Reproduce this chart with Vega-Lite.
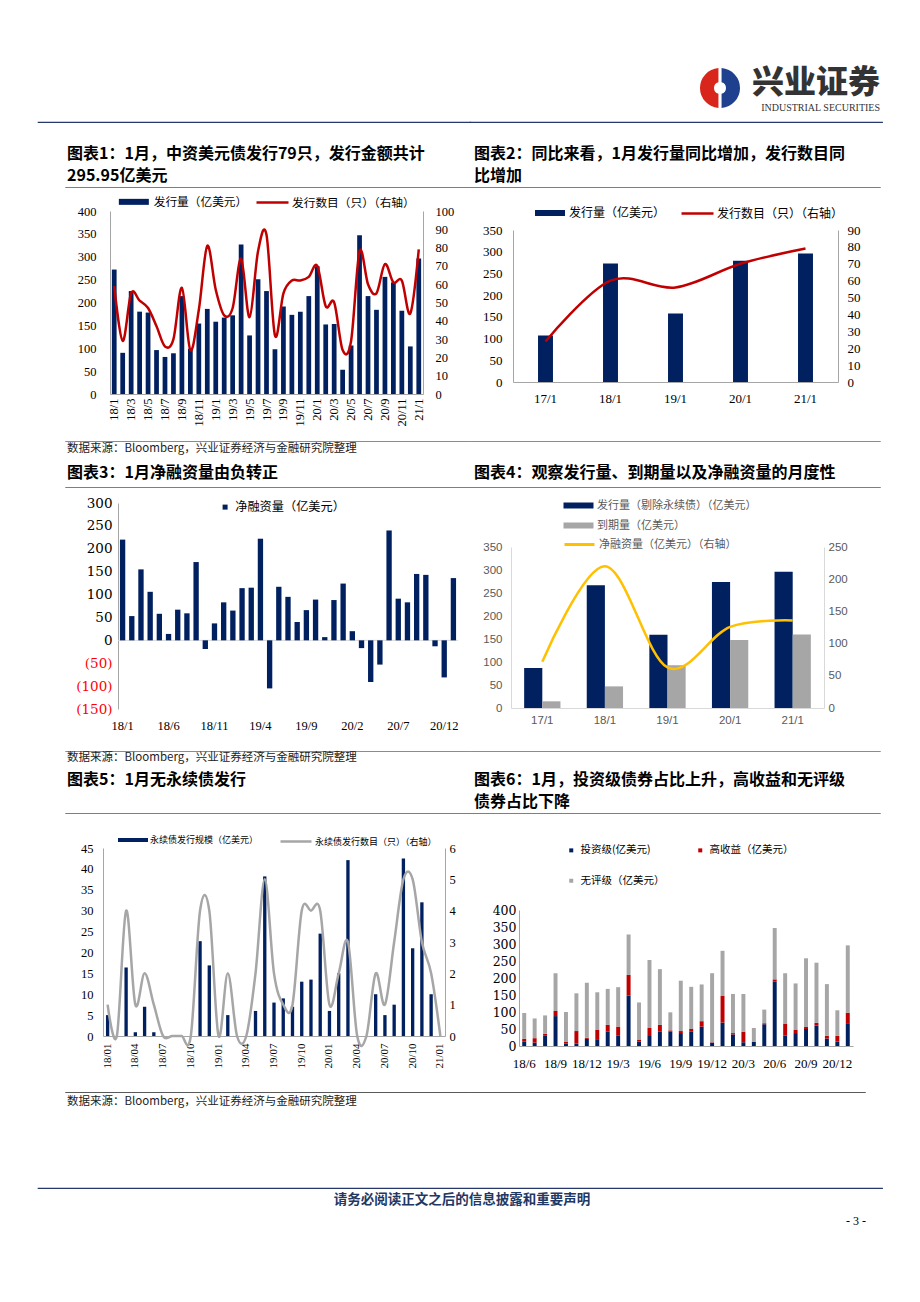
{
"$schema":"https://vega.github.io/schema/vega-lite/v6.json",
"autosize":"none",
"padding":{"left":0,"top":68,"right":920,"bottom":1234},
"background":"#ffffff",
"spacing":0,
"resolve":{"scale":{"fill":"independent","stroke":"independent","color":"independent"},"legend":{"fill":"independent","stroke":"independent","color":"independent"}},
"config":{
 "view":{"stroke":null},
 "font":"Liberation Serif, Noto Sans CJK SC",
 "axis":{"labelFont":"Liberation Serif","labelColor":"#000000","labelFontSize":12.5,"domainColor":"#a6a6a6","domainWidth":1,"ticks":false,"grid":false,"labelOverlap":false},
 "legend":{"padding":0,"labelFont":"Noto Sans CJK SC","labelColor":"#000000","labelLimit":0},
 "title":{"frame":"group"}
},
"vconcat":[
{"spacing":0,"bounds":"flush","resolve":{"scale":{"fill":"independent","stroke":"independent","color":"independent"},"legend":{"fill":"independent","stroke":"independent","color":"independent"}},"hconcat":[
 {"width":700,"height":53,"data":{"values":[]},"mark":"point"},
 {"width":40,"height":40,"data":{"values":[{"p":"a","v":1},{"p":"b","v":1}]},"mark":{"type":"arc","radius":20,"innerRadius":6,"padAngle":0.15},"encoding":{"theta":{"field":"v","type":"quantitative"},"color":{"field":"p","type":"nominal","scale":{"domain":["a","b"],"range":["#1f3f8f","#d9261c"]},"legend":null}}},
 {"width":8,"height":1,"data":{"values":[]},"mark":"point"},
 {"width":132,"height":0.01,"data":{"values":[]},"mark":"point","title":{"text":"兴业证券","subtitle":"INDUSTRIAL SECURITIES","orient":"bottom","anchor":"end","offset":0,"font":"Noto Sans CJK SC","fontSize":32,"fontWeight":900,"color":"#333333","subtitleFont":"Liberation Serif","subtitleFontSize":10,"subtitleColor":"#333333","subtitlePadding":3}}
]},
{"spacing":0,"bounds":"flush","hconcat":[
 {"width":38,"height":64,"data":{"values":[]},"mark":"point"},
 {"width":432,"height":0.01,"data":{"values":[]},"mark":"point","view":{"stroke":"#26386b","strokeWidth":1.2},"title":{"text":["图表1：1月，中资美元债发行79只，发行金额共计","295.95亿美元"],"orient":"bottom","anchor":"start","dx":29,"offset":24,"font":"Noto Sans CJK SC","fontSize":16,"fontWeight":"bold","lineHeight":22,"color":"#000000"}},
 {"width":412,"height":0.01,"data":{"values":[]},"mark":"point","view":{"stroke":"#26386b","strokeWidth":1.2},"title":{"text":["图表2：同比来看，1月发行量同比增加，发行数目同","比增加"],"orient":"bottom","anchor":"start","dx":4,"offset":24,"font":"Noto Sans CJK SC","fontSize":16,"fontWeight":"bold","lineHeight":22,"color":"#000000"}}
]},
{"spacing":0,"bounds":"flush","hconcat":[
 {"width":65,"height":5,"data":{"values":[]},"mark":"point"},
 {"width":815,"height":0.01,"data":{"values":[]},"mark":"point","view":{"stroke":"#7f7f7f","strokeWidth":1}}
]},
{"spacing":0,"bounds":"flush","resolve":{"scale":{"fill":"independent","stroke":"independent","color":"independent"},"legend":{"fill":"independent","stroke":"independent","color":"independent"}},"hconcat":[
 {"width":110,"height":248,"data":{"values":[]},"mark":"point"},
 {"width":313,"height":202,
  "data":{"values":[
   {"m":"18/1","v":272,"n":59},{"m":"18/2","v":90,"n":29},{"m":"18/3","v":225,"n":55},{"m":"18/4","v":180,"n":51},{"m":"18/5","v":178,"n":47},{"m":"18/6","v":96,"n":37},{"m":"18/7","v":81,"n":26},{"m":"18/8","v":89,"n":30},{"m":"18/9","v":214,"n":58},{"m":"18/10","v":99,"n":24},{"m":"18/11","v":154,"n":46},{"m":"18/12","v":186,"n":81},
   {"m":"19/1","v":158,"n":57},{"m":"19/2","v":167,"n":43},{"m":"19/3","v":172,"n":47},{"m":"19/4","v":327,"n":74},{"m":"19/5","v":128,"n":42},{"m":"19/6","v":251,"n":78},{"m":"19/7","v":225,"n":87},{"m":"19/8","v":98,"n":32},{"m":"19/9","v":191,"n":55},{"m":"19/10","v":173,"n":62},{"m":"19/11","v":180,"n":62},{"m":"19/12","v":214,"n":64},
   {"m":"20/1","v":279,"n":70},{"m":"20/2","v":152,"n":48},{"m":"20/3","v":153,"n":50},{"m":"20/4","v":53,"n":24},{"m":"20/5","v":106,"n":29},{"m":"20/6","v":347,"n":78},{"m":"20/7","v":214,"n":60},{"m":"20/8","v":184,"n":55},{"m":"20/9","v":256,"n":71},{"m":"20/10","v":244,"n":61},{"m":"20/11","v":182,"n":62},{"m":"20/12","v":104,"n":44},
   {"m":"21/1","v":296,"n":79}]},
  "encoding":{"x":{"field":"m","type":"ordinal","sort":null,"scale":{"paddingInner":0.44,"paddingOuter":0.22},"axis":{"title":null,"values":["18/1","18/3","18/5","18/7","18/9","18/11","19/1","19/3","19/5","19/7","19/9","19/11","20/1","20/3","20/5","20/7","20/9","20/11","21/1"],"labelAngle":-90,"labelPadding":4}}},
  "layer":[
   {"mark":{"type":"bar"},"encoding":{
     "y":{"field":"v","type":"quantitative","scale":{"domain":[0,400],"nice":false,"rangeMax":19},"axis":{"title":null,"orient":"left","values":[0,50,100,150,200,250,300,350,400],"labelPadding":14}},
     "fill":{"datum":"发行量（亿美元）","type":"nominal","scale":{"range":["#002060"]},"legend":{"orient":"none","legendX":18,"legendY":4,"title":null,"symbolType":"M-3,-0.6H3V0.6H-3Z","symbolSize":100,"symbolStrokeWidth":0,"labelOffset":14,"labelFontSize":11.7}}}},
   {"mark":{"type":"line","interpolate":"cardinal","strokeWidth":2.5},"encoding":{
     "y":{"field":"n","type":"quantitative","scale":{"domain":[0,100],"nice":false,"rangeMax":19},"axis":{"title":null,"orient":"right","values":[0,10,20,30,40,50,60,70,80,90,100],"labelPadding":12}},
     "stroke":{"datum":"发行数目（只）（右轴）","type":"nominal","scale":{"range":["#c00000"]},"legend":{"orient":"none","legendX":156,"legendY":4,"title":null,"symbolType":"M-3.2,0H3.2","symbolSize":100,"symbolStrokeWidth":2.5,"labelOffset":13,"labelFontSize":11.7}}}}
  ],
  "resolve":{"scale":{"y":"independent"}}
 },
 {"width":90,"height":1,"data":{"values":[]},"mark":"point"},
 {"width":325,"height":190,
  "data":{"values":[{"m":"17/1","v":107,"n":24},{"m":"18/1","v":273,"n":60},{"m":"19/1","v":158,"n":56},{"m":"20/1","v":279,"n":70},{"m":"21/1","v":296,"n":79}]},
  "encoding":{"x":{"field":"m","type":"ordinal","sort":null,"scale":{"paddingInner":0.77,"paddingOuter":0.385},"axis":{"title":null,"labelAngle":0,"labelPadding":10,"labelFontSize":13}}},
  "layer":[
   {"mark":{"type":"bar"},"encoding":{
     "y":{"field":"v","type":"quantitative","scale":{"domain":[0,350],"nice":false,"rangeMax":38},"axis":{"title":null,"orient":"left","values":[0,50,100,150,200,250,300,350],"labelPadding":11,"labelFontSize":13}},
     "fill":{"datum":"发行量（亿美元）","type":"nominal","scale":{"range":["#002060"]},"legend":{"orient":"none","legendX":31,"legendY":15,"title":null,"symbolType":"M-3,-0.6H3V0.6H-3Z","symbolSize":100,"symbolStrokeWidth":0,"labelOffset":13,"labelFontSize":12}}}},
   {"mark":{"type":"line","interpolate":"cardinal","strokeWidth":2.5},"encoding":{
     "y":{"field":"n","type":"quantitative","scale":{"domain":[0,90],"nice":false,"rangeMax":38},"axis":{"title":null,"orient":"right","values":[0,10,20,30,40,50,60,70,80,90],"labelPadding":9,"labelFontSize":13}},
     "stroke":{"datum":"发行数目（只）（右轴）","type":"nominal","scale":{"range":["#c00000"]},"legend":{"orient":"none","legendX":178,"legendY":15,"title":null,"symbolType":"M-3.2,0H3.2","symbolSize":100,"symbolStrokeWidth":2.5,"labelOffset":13,"labelFontSize":12}}}}
  ],
  "resolve":{"scale":{"y":"independent"}}
 }
]},
{"spacing":0,"bounds":"flush","hconcat":[
 {"width":65,"height":45,"data":{"values":[]},"mark":"point"},
 {"width":405,"height":0.01,"data":{"values":[]},"mark":"point","view":{"stroke":"#8c8c8c","strokeWidth":1},"title":{"text":"数据来源：Bloomberg，兴业证券经济与金融研究院整理","subtitle":"图表3：1月净融资量由负转正","orient":"bottom","anchor":"start","dx":2,"offset":2,"font":"Noto Sans CJK SC","fontSize":11.5,"fontWeight":"normal","color":"#222222","subtitleFont":"Noto Sans CJK SC","subtitleFontSize":16,"subtitleFontWeight":"bold","subtitleColor":"#000000","subtitlePadding":10}},
 {"width":410,"height":0.01,"data":{"values":[]},"mark":"point","view":{"stroke":"#8c8c8c","strokeWidth":1},"title":{"text":"图表4：观察发行量、到期量以及净融资量的月度性","orient":"bottom","anchor":"start","dx":4,"offset":24,"font":"Noto Sans CJK SC","fontSize":16,"fontWeight":"bold","color":"#000000"}}
]},
{"spacing":0,"bounds":"flush","hconcat":[
 {"width":65,"height":3,"data":{"values":[]},"mark":"point"},
 {"width":815,"height":0.01,"data":{"values":[]},"mark":"point","view":{"stroke":"#7f7f7f","strokeWidth":1}}
]},
{"spacing":0,"bounds":"flush","resolve":{"scale":{"fill":"independent","stroke":"independent","color":"independent"},"legend":{"fill":"independent","stroke":"independent","color":"independent"}},"hconcat":[
 {"width":118,"height":260,"data":{"values":[]},"mark":"point"},
 {"width":340,"height":219,
  "layer":[
   {"data":{"values":[{}]},"mark":{"type":"rule","color":"#d9d9d9","strokeWidth":1},"encoding":{"y":{"datum":0,"type":"quantitative","scale":{"domain":[-150,300],"nice":false,"rangeMax":13},"axis":{"title":null,"values":[-150,-100,-50,0,50,100,150,200,250,300],"labelPadding":6,"labelFont":"DejaVu Serif","labelFontSize":13.5,"labelExpr":"datum.value < 0 ? '(' + (-datum.value) + ')' : '' + datum.value","labelColor":{"condition":{"test":"datum.value < 0","value":"#ff0000"},"value":"#000000"}}}}},
   {"data":{"values":[
     {"m":"18/1","v":220},{"m":"18/2","v":53},{"m":"18/3","v":155},{"m":"18/4","v":106},{"m":"18/5","v":58},{"m":"18/6","v":14},{"m":"18/7","v":67},{"m":"18/8","v":59},{"m":"18/9","v":171},{"m":"18/10","v":-19},{"m":"18/11","v":37},{"m":"18/12","v":83},
     {"m":"19/1","v":65},{"m":"19/2","v":114},{"m":"19/3","v":115},{"m":"19/4","v":222},{"m":"19/5","v":-105},{"m":"19/6","v":117},{"m":"19/7","v":95},{"m":"19/8","v":40},{"m":"19/9","v":66},{"m":"19/10","v":89},{"m":"19/11","v":7},{"m":"19/12","v":88},
     {"m":"20/1","v":124},{"m":"20/2","v":20},{"m":"20/3","v":-17},{"m":"20/4","v":-91},{"m":"20/5","v":-53},{"m":"20/6","v":240},{"m":"20/7","v":91},{"m":"20/8","v":83},{"m":"20/9","v":145},{"m":"20/10","v":143},{"m":"20/11","v":-13},{"m":"20/12","v":-81},
     {"m":"21/1","v":136}]},
    "mark":{"type":"bar"},
    "encoding":{
     "x":{"field":"m","type":"ordinal","sort":null,"scale":{"paddingInner":0.42,"paddingOuter":0.21},"axis":{"title":null,"values":["18/1","18/6","18/11","19/4","19/9","20/2","20/7","20/12"],"labelAngle":0,"labelPadding":10,"domain":false,"labelFontSize":12.5}},
     "y":{"field":"v","type":"quantitative","scale":{"domain":[-150,300],"nice":false,"rangeMax":13},"axis":{"title":null,"values":[-150,-100,-50,0,50,100,150,200,250,300],"labelPadding":6,"labelFont":"DejaVu Serif","labelFontSize":13.5,"labelExpr":"datum.value < 0 ? '(' + (-datum.value) + ')' : '' + datum.value","labelColor":{"condition":{"test":"datum.value < 0","value":"#ff0000"},"value":"#000000"}}},
     "fill":{"datum":"净融资量（亿美元）","type":"nominal","scale":{"range":["#002060"]},"legend":{"orient":"none","legendX":101,"legendY":11,"title":null,"symbolType":"square","symbolSize":25,"symbolStrokeWidth":0,"labelOffset":4,"labelFontSize":12.2}}}}
  ]
 },
 {"width":53,"height":1,"data":{"values":[]},"mark":"point"},
 {"width":313,"height":218,
  "layer":[
   {"data":{"values":[
     {"g":"17/1","s":"发行量（剔除永续债）（亿美元）","v":87},{"g":"17/1","s":"到期量（亿美元）","v":14.5},
     {"g":"18/1","s":"发行量（剔除永续债）（亿美元）","v":267},{"g":"18/1","s":"到期量（亿美元）","v":47},
     {"g":"19/1","s":"发行量（剔除永续债）（亿美元）","v":159},{"g":"19/1","s":"到期量（亿美元）","v":93},
     {"g":"20/1","s":"发行量（剔除永续债）（亿美元）","v":274},{"g":"20/1","s":"到期量（亿美元）","v":148},
     {"g":"21/1","s":"发行量（剔除永续债）（亿美元）","v":296},{"g":"21/1","s":"到期量（亿美元）","v":160}]},
    "mark":{"type":"bar"},
    "encoding":{
     "x":{"field":"g","type":"ordinal","sort":null,"scale":{"paddingInner":0.42,"paddingOuter":0.21},"axis":{"title":null,"labelAngle":0,"labelPadding":6,"labelFont":"Liberation Sans","labelFontSize":11.5,"labelColor":"#595959","domainColor":"#d9d9d9"}},
     "xOffset":{"field":"s","type":"nominal","sort":null},
     "y":{"field":"v","type":"quantitative","scale":{"domain":[0,350],"nice":false,"rangeMax":57},"axis":{"title":null,"orient":"left","values":[0,50,100,150,200,250,300,350],"labelPadding":9,"labelFont":"Liberation Sans","labelFontSize":11.5,"labelColor":"#595959","domainColor":"#d9d9d9"}},
     "fill":{"field":"s","type":"nominal","sort":null,"scale":{"domain":["发行量（剔除永续债）（亿美元）","到期量（亿美元）"],"range":["#002060","#a6a6a6"]},"legend":{"orient":"none","direction":"vertical","legendX":62,"legendY":10,"title":null,"symbolType":"M-3,-0.6H3V0.6H-3Z","symbolSize":100,"symbolStrokeWidth":0,"labelOffset":13,"labelFontSize":11,"labelColor":"#595959","rowPadding":8}}}},
   {"data":{"values":[{"g":"17/1","net":72},{"g":"18/1","net":220},{"g":"19/1","net":63},{"g":"20/1","net":126},{"g":"21/1","net":136}]},
    "mark":{"type":"line","interpolate":"cardinal","strokeWidth":2.5},
    "encoding":{
     "x":{"field":"g","type":"ordinal","sort":null,"axis":{"title":null,"labelAngle":0,"labelPadding":6,"labelFont":"Liberation Sans","labelFontSize":11.5,"labelColor":"#595959","domainColor":"#d9d9d9"}},
     "y":{"field":"net","type":"quantitative","scale":{"domain":[0,250],"nice":false,"rangeMax":57},"axis":{"title":null,"orient":"right","values":[0,50,100,150,200,250],"labelPadding":4,"labelFont":"Liberation Sans","labelFontSize":11.5,"labelColor":"#595959","domainColor":"#d9d9d9"}},
     "stroke":{"datum":"净融资量（亿美元）（右轴）","type":"nominal","scale":{"range":["#ffc000"]},"legend":{"orient":"none","legendX":62,"legendY":48,"title":null,"symbolType":"M-3,0H3","symbolSize":100,"symbolStrokeWidth":3,"labelOffset":13,"labelFontSize":11,"labelColor":"#595959"}}}}
  ],
  "resolve":{"scale":{"y":"independent"}}
 }
]},
{"spacing":0,"bounds":"flush","hconcat":[
 {"width":65,"height":61,"data":{"values":[]},"mark":"point"},
 {"width":405,"height":0.01,"data":{"values":[]},"mark":"point","view":{"stroke":"#8c8c8c","strokeWidth":1},"title":{"text":"数据来源：Bloomberg，兴业证券经济与金融研究院整理","subtitle":"图表5：1月无永续债发行","orient":"bottom","anchor":"start","dx":2,"offset":1,"font":"Noto Sans CJK SC","fontSize":11.5,"fontWeight":"normal","color":"#222222","subtitleFont":"Noto Sans CJK SC","subtitleFontSize":16,"subtitleFontWeight":"bold","subtitleColor":"#000000","subtitlePadding":8}},
 {"width":410,"height":0.01,"data":{"values":[]},"mark":"point","view":{"stroke":"#8c8c8c","strokeWidth":1},"title":{"text":["图表6：1月，投资级债券占比上升，高收益和无评级","债券占比下降"],"orient":"bottom","anchor":"start","dx":4,"offset":21,"font":"Noto Sans CJK SC","fontSize":16,"fontWeight":"bold","lineHeight":22,"color":"#000000"}}
]},
{"spacing":0,"bounds":"flush","hconcat":[
 {"width":65,"height":17,"data":{"values":[]},"mark":"point"},
 {"width":815,"height":0.01,"data":{"values":[]},"mark":"point","view":{"stroke":"#7f7f7f","strokeWidth":1}}
]},
{"spacing":0,"bounds":"flush","resolve":{"scale":{"fill":"independent","stroke":"independent","color":"independent"},"legend":{"fill":"independent","stroke":"independent","color":"independent"}},"hconcat":[
 {"width":103,"height":261,"data":{"values":[]},"mark":"point"},
 {"width":342,"height":206,
  "data":{"values":[
   {"m":"18/01","v":5,"n":1},{"m":"18/02","v":0,"n":0},{"m":"18/03","v":16.4,"n":4},{"m":"18/04","v":0.9,"n":1},{"m":"18/05","v":7,"n":2},{"m":"18/06","v":0.9,"n":1},{"m":"18/07","v":0,"n":0},{"m":"18/08","v":0,"n":0},{"m":"18/09","v":0,"n":0},{"m":"18/10","v":0,"n":0},{"m":"18/11","v":22.7,"n":4},{"m":"18/12","v":16.9,"n":4},
   {"m":"19/01","v":0,"n":0},{"m":"19/02","v":5,"n":2},{"m":"19/03","v":0,"n":0},{"m":"19/04","v":0,"n":0},{"m":"19/05","v":6,"n":2},{"m":"19/06","v":38.2,"n":5},{"m":"19/07","v":8,"n":2},{"m":"19/08","v":9,"n":1},{"m":"19/09","v":7,"n":1},{"m":"19/10","v":13,"n":4},{"m":"19/11","v":13.5,"n":4},{"m":"19/12","v":24.5,"n":4},
   {"m":"20/01","v":6,"n":1},{"m":"20/02","v":15,"n":2},{"m":"20/03","v":42.1,"n":3},{"m":"20/04","v":0,"n":0},{"m":"20/05","v":0,"n":0},{"m":"20/06","v":10,"n":2},{"m":"20/07","v":5,"n":1},{"m":"20/08","v":7.5,"n":3},{"m":"20/09","v":42.5,"n":5},{"m":"20/10","v":21,"n":5},{"m":"20/11","v":32,"n":3},{"m":"20/12","v":10,"n":2},
   {"m":"21/01","v":0,"n":0}]},
  "encoding":{"x":{"field":"m","type":"ordinal","sort":null,"scale":{"paddingInner":0.64,"paddingOuter":0.32},"axis":{"title":null,"values":["18/01","18/04","18/07","18/10","19/01","19/04","19/07","19/10","20/01","20/04","20/07","20/10","21/01"],"labelAngle":-90,"labelPadding":7,"labelFontSize":11}}},
  "layer":[
   {"mark":{"type":"bar"},"encoding":{
     "y":{"field":"v","type":"quantitative","scale":{"domain":[0,45],"nice":false,"rangeMax":18},"axis":{"title":null,"orient":"left","values":[0,5,10,15,20,25,30,35,40,45],"labelPadding":10}},
     "fill":{"datum":"永续债发行规模（亿美元）","type":"nominal","scale":{"range":["#002060"]},"legend":{"orient":"none","legendX":25,"legendY":5,"title":null,"symbolType":"M-3,-0.4H3V0.4H-3Z","symbolSize":100,"symbolStrokeWidth":0,"labelOffset":12,"labelFontSize":9}}}},
   {"mark":{"type":"line","interpolate":"cardinal","strokeWidth":2.5},"encoding":{
     "y":{"field":"n","type":"quantitative","scale":{"domain":[0,6],"nice":false,"rangeMax":18},"axis":{"title":null,"orient":"right","values":[0,1,2,3,4,5,6],"labelPadding":4}},
     "stroke":{"datum":"永续债发行数目（只）（右轴）","type":"nominal","scale":{"range":["#a6a6a6"]},"legend":{"orient":"none","legendX":186.5,"legendY":5,"title":null,"symbolType":"M-3.1,0H3.1","symbolSize":100,"symbolStrokeWidth":2.5,"labelOffset":12.5,"labelFontSize":9}}}}
  ],
  "resolve":{"scale":{"y":"independent"}}
 },
 {"width":74,"height":1,"data":{"values":[]},"mark":"point"},
 {"width":334,"height":216,
  "data":{"values":[
   {"m":"18/6","s":"投资级(亿美元)","o":1,"v":13},{"m":"18/6","s":"高收益（亿美元）","o":2,"v":8},{"m":"18/6","s":"无评级（亿美元）","o":3,"v":76},
   {"m":"18/7","s":"投资级(亿美元)","o":1,"v":10},{"m":"18/7","s":"高收益（亿美元）","o":2,"v":13},{"m":"18/7","s":"无评级（亿美元）","o":3,"v":58},
   {"m":"18/8","s":"投资级(亿美元)","o":1,"v":30},{"m":"18/8","s":"高收益（亿美元）","o":2,"v":6},{"m":"18/8","s":"无评级（亿美元）","o":3,"v":54},
   {"m":"18/9","s":"投资级(亿美元)","o":1,"v":88},{"m":"18/9","s":"高收益（亿美元）","o":2,"v":15},{"m":"18/9","s":"无评级（亿美元）","o":3,"v":111},
   {"m":"18/10","s":"投资级(亿美元)","o":1,"v":7},{"m":"18/10","s":"高收益（亿美元）","o":2,"v":6},{"m":"18/10","s":"无评级（亿美元）","o":3,"v":87},
   {"m":"18/11","s":"投资级(亿美元)","o":1,"v":7},{"m":"18/11","s":"高收益（亿美元）","o":2,"v":37},{"m":"18/11","s":"无评级（亿美元）","o":3,"v":111},
   {"m":"18/12","s":"投资级(亿美元)","o":1,"v":21},{"m":"18/12","s":"高收益（亿美元）","o":2,"v":3},{"m":"18/12","s":"无评级（亿美元）","o":3,"v":162},
   {"m":"19/1","s":"投资级(亿美元)","o":1,"v":20},{"m":"19/1","s":"高收益（亿美元）","o":2,"v":27},{"m":"19/1","s":"无评级（亿美元）","o":3,"v":111},
   {"m":"19/2","s":"投资级(亿美元)","o":1,"v":43},{"m":"19/2","s":"高收益（亿美元）","o":2,"v":19},{"m":"19/2","s":"无评级（亿美元）","o":3,"v":106},
   {"m":"19/3","s":"投资级(亿美元)","o":1,"v":30},{"m":"19/3","s":"高收益（亿美元）","o":2,"v":27},{"m":"19/3","s":"无评级（亿美元）","o":3,"v":116},
   {"m":"19/4","s":"投资级(亿美元)","o":1,"v":148},{"m":"19/4","s":"高收益（亿美元）","o":2,"v":61},{"m":"19/4","s":"无评级（亿美元）","o":3,"v":119},
   {"m":"19/5","s":"投资级(亿美元)","o":1,"v":13},{"m":"19/5","s":"高收益（亿美元）","o":2,"v":6},{"m":"19/5","s":"无评级（亿美元）","o":3,"v":109},
   {"m":"19/6","s":"投资级(亿美元)","o":1,"v":32},{"m":"19/6","s":"高收益（亿美元）","o":2,"v":21},{"m":"19/6","s":"无评级（亿美元）","o":3,"v":200},
   {"m":"19/7","s":"投资级(亿美元)","o":1,"v":43},{"m":"19/7","s":"高收益（亿美元）","o":2,"v":19},{"m":"19/7","s":"无评级（亿美元）","o":3,"v":164},
   {"m":"19/8","s":"投资级(亿美元)","o":1,"v":43},{"m":"19/8","s":"高收益（亿美元）","o":2,"v":3},{"m":"19/8","s":"无评级（亿美元）","o":3,"v":53},
   {"m":"19/9","s":"投资级(亿美元)","o":1,"v":38},{"m":"19/9","s":"高收益（亿美元）","o":2,"v":6},{"m":"19/9","s":"无评级（亿美元）","o":3,"v":148},
   {"m":"19/10","s":"投资级(亿美元)","o":1,"v":43},{"m":"19/10","s":"高收益（亿美元）","o":2,"v":7},{"m":"19/10","s":"无评级（亿美元）","o":3,"v":124},
   {"m":"19/11","s":"投资级(亿美元)","o":1,"v":57},{"m":"19/11","s":"高收益（亿美元）","o":2,"v":16},{"m":"19/11","s":"无评级（亿美元）","o":3,"v":108},
   {"m":"19/12","s":"投资级(亿美元)","o":1,"v":10},{"m":"19/12","s":"高收益（亿美元）","o":2,"v":1},{"m":"19/12","s":"无评级（亿美元）","o":3,"v":203},
   {"m":"20/1","s":"投资级(亿美元)","o":1,"v":69},{"m":"20/1","s":"高收益（亿美元）","o":2,"v":78},{"m":"20/1","s":"无评级（亿美元）","o":3,"v":133},
   {"m":"20/2","s":"投资级(亿美元)","o":1,"v":34},{"m":"20/2","s":"高收益（亿美元）","o":2,"v":4},{"m":"20/2","s":"无评级（亿美元）","o":3,"v":115},
   {"m":"20/3","s":"投资级(亿美元)","o":1,"v":11},{"m":"20/3","s":"高收益（亿美元）","o":2,"v":31},{"m":"20/3","s":"无评级（亿美元）","o":3,"v":111},
   {"m":"20/4","s":"投资级(亿美元)","o":1,"v":12},{"m":"20/4","s":"高收益（亿美元）","o":2,"v":1},{"m":"20/4","s":"无评级（亿美元）","o":3,"v":40},
   {"m":"20/5","s":"投资级(亿美元)","o":1,"v":64},{"m":"20/5","s":"高收益（亿美元）","o":2,"v":3},{"m":"20/5","s":"无评级（亿美元）","o":3,"v":40},
   {"m":"20/6","s":"投资级(亿美元)","o":1,"v":189},{"m":"20/6","s":"高收益（亿美元）","o":2,"v":7},{"m":"20/6","s":"无评级（亿美元）","o":3,"v":151},
   {"m":"20/7","s":"投资级(亿美元)","o":1,"v":31},{"m":"20/7","s":"高收益（亿美元）","o":2,"v":35},{"m":"20/7","s":"无评级（亿美元）","o":3,"v":148},
   {"m":"20/8","s":"投资级(亿美元)","o":1,"v":38},{"m":"20/8","s":"高收益（亿美元）","o":2,"v":9},{"m":"20/8","s":"无评级（亿美元）","o":3,"v":137},
   {"m":"20/9","s":"投资级(亿美元)","o":1,"v":50},{"m":"20/9","s":"高收益（亿美元）","o":2,"v":6},{"m":"20/9","s":"无评级（亿美元）","o":3,"v":202},
   {"m":"20/10","s":"投资级(亿美元)","o":1,"v":60},{"m":"20/10","s":"高收益（亿美元）","o":2,"v":8},{"m":"20/10","s":"无评级（亿美元）","o":3,"v":177},
   {"m":"20/11","s":"投资级(亿美元)","o":1,"v":22},{"m":"20/11","s":"高收益（亿美元）","o":2,"v":8},{"m":"20/11","s":"无评级（亿美元）","o":3,"v":152},
   {"m":"20/12","s":"投资级(亿美元)","o":1,"v":13},{"m":"20/12","s":"高收益（亿美元）","o":2,"v":17},{"m":"20/12","s":"无评级（亿美元）","o":3,"v":75},
   {"m":"21/1","s":"投资级(亿美元)","o":1,"v":67},{"m":"21/1","s":"高收益（亿美元）","o":2,"v":31},{"m":"21/1","s":"无评级（亿美元）","o":3,"v":198}]},
  "mark":{"type":"bar"},
  "encoding":{
   "x":{"field":"m","type":"ordinal","sort":null,"scale":{"paddingInner":0.62,"paddingOuter":0.31},"axis":{"title":null,"values":["18/6","18/9","18/12","19/3","19/6","19/9","19/12","20/3","20/6","20/9","20/12"],"labelAngle":0,"labelPadding":11,"labelFontSize":13}},
   "y":{"field":"v","type":"quantitative","stack":"zero","scale":{"domain":[0,400],"nice":false,"rangeMax":80},"axis":{"title":null,"values":[0,50,100,150,200,250,300,350,400],"labelPadding":3,"labelFont":"DejaVu Serif","labelFontSize":12.5}},
   "fill":{"field":"s","type":"nominal","scale":{"domain":["投资级(亿美元)","无评级（亿美元）","高收益（亿美元）"],"range":["#002060","#a6a6a6","#c00000"]},"legend":{"orient":"none","direction":"vertical","columns":2,"columnPadding":30,"rowPadding":19.5,"legendX":47,"legendY":15,"title":null,"symbolType":"square","symbolSize":16,"symbolStrokeWidth":0,"labelOffset":4,"labelFontSize":10.5}},
   "order":{"field":"o","type":"quantitative"}
  }
 }
]},
{"spacing":0,"bounds":"flush","hconcat":[
 {"width":65,"height":95,"data":{"values":[]},"mark":"point"},
 {"width":405,"height":0.01,"data":{"values":[]},"mark":"point","view":{"stroke":"#595959","strokeWidth":1},"title":{"text":"数据来源：Bloomberg，兴业证券经济与金融研究院整理","orient":"bottom","anchor":"start","dx":2,"offset":4,"font":"Noto Sans CJK SC","fontSize":11.5,"fontWeight":"normal","color":"#222222"}},
 {"width":395,"height":0.01,"data":{"values":[]},"mark":"point","view":{"stroke":"#595959","strokeWidth":1}}
]},
{"spacing":0,"bounds":"flush","hconcat":[
 {"width":38,"height":22,"data":{"values":[]},"mark":"point"},
 {"width":844,"height":0.01,"data":{"values":[]},"mark":"point","view":{"stroke":"#26386b","strokeWidth":1.2},"title":{"text":"请务必阅读正文之后的信息披露和重要声明","orient":"bottom","anchor":"middle","dx":2,"offset":5,"font":"Noto Sans CJK SC","fontSize":13.5,"fontWeight":"bold","color":"#1f3864"}}
]},
{"spacing":0,"bounds":"flush","hconcat":[
 {"width":38,"height":30,"data":{"values":[]},"mark":"point"},
 {"width":830,"height":0.01,"data":{"values":[]},"mark":"point","title":{"text":"- 3 -","orient":"bottom","anchor":"end","dx":-2,"offset":6,"font":"Liberation Serif","fontSize":12,"fontWeight":"normal","color":"#000000"}}
]}
]
}
